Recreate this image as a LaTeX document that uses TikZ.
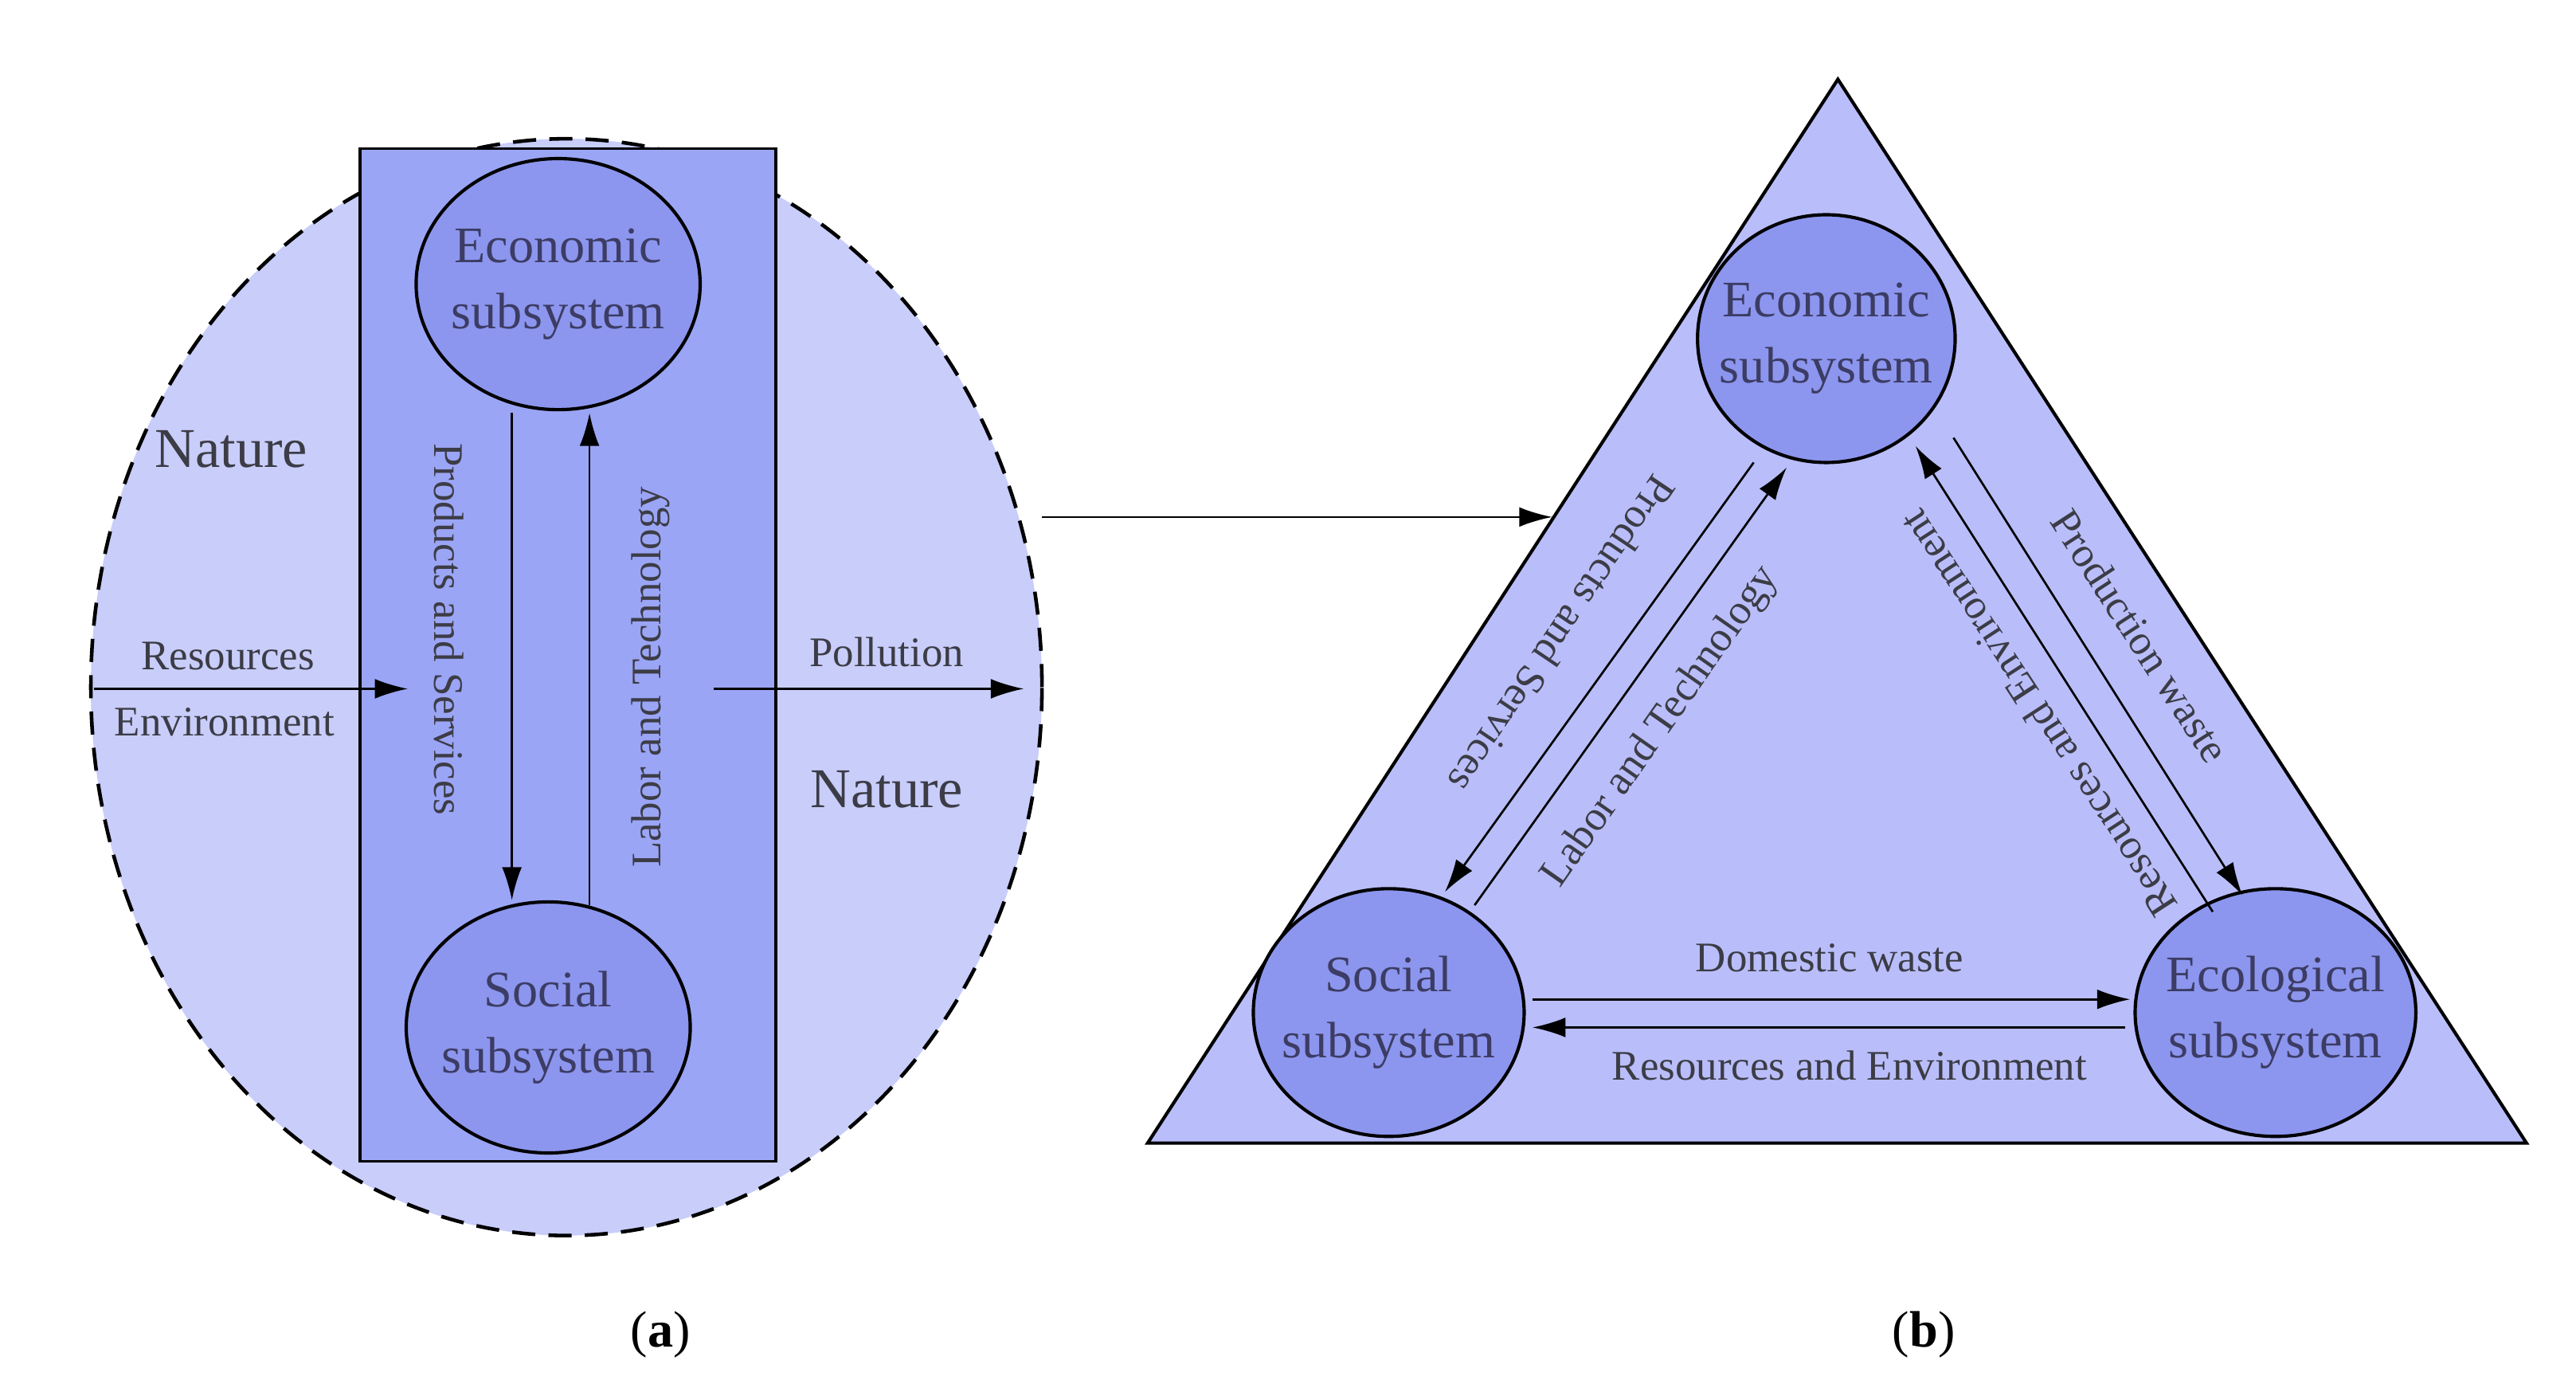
\documentclass[tikz,border=0pt]{standalone}
\usepackage{fontspec}
\setmainfont{Liberation Serif}
\usetikzlibrary{shapes.geometric,arrows.meta}
\definecolor{bgA}{RGB}{200,205,250}
\definecolor{rectA}{RGB}{155,165,245}
\definecolor{circ}{RGB}{140,150,238}
\definecolor{triB}{RGB}{185,190,250}
\definecolor{txt}{RGB}{60,60,70}
\definecolor{ctxt}{RGB}{60,60,100}
\tikzset{
  sub/.style={ellipse,draw,line width=2pt,fill=circ,text=ctxt,align=center,font=\fontsize{31}{40}\selectfont,inner xsep=-14pt,inner ysep=-10pt},
  lab/.style={text=txt,font=\fontsize{25.5}{28}\selectfont,inner sep=0pt},
  arr/.style={line width=1.3pt,-{Latex[length=20pt,width=12pt]}},
}
\begin{document}
\begin{tikzpicture}[x=1pt,y=-1pt]
\useasboundingbox (0,0) rectangle (1560,840);
% (a)
\node[ellipse,draw,dashed,dash pattern=on 14pt off 8pt,line width=2.2pt,fill=bgA,minimum width=576pt,minimum height=664pt] (nat) at (343,416) {};
\node[draw,line width=1.8pt,fill=rectA,minimum width=252pt,minimum height=613pt] (box) at (344,396.5) {};
\node[sub,minimum width=172pt,minimum height=152pt] (ea) at (338,172) {Economic\\subsystem};
\node[sub,minimum width=172pt,minimum height=152pt] (sa) at (332,622) {Social\\subsystem};
\coordinate (a1) at (310,250); \coordinate (a2) at (310,545);
\coordinate (a3) at (357,548); \coordinate (a4) at (357,250);
\draw[arr] (a1) -- (a2);
\draw[arr] (a3) -- (a4);
\node[lab,rotate=-90] (pa) at (272,381) {Products and Services};
\node[lab,rotate=90] (la) at (394,410) {Labor and Technology};
\node[text=txt,font=\fontsize{34}{36}\selectfont] (n1) at (140,272) {Nature};
\node[text=txt,font=\fontsize{34}{36}\selectfont] (n2) at (537,478) {Nature};
\node[lab] (r1) at (138,397) {Resources};
\node[lab] (r2) at (136,437) {Environment};
\coordinate (in0) at (57,417); \coordinate (in1) at (247,417);
\draw[arr] (in0) -- (in1);
\node[lab] (po) at (537,395) {Pollution};
\coordinate (p0) at (432,417); \coordinate (p1) at (620,417);
\draw[arr] (p0) -- (p1);
\coordinate (m0) at (631,313); \coordinate (m1) at (940,313);
\draw[arr] (m0) -- (m1);
% (b)
\coordinate (t1) at (1113,48); \coordinate (t2) at (695,692); \coordinate (t3) at (1530,692);
\draw[line width=2pt,fill=triB,line join=miter] (t1) -- (t2) -- (t3) -- cycle;
\node[sub,minimum width=156pt,minimum height=150pt] (eb) at (1106,205) {Economic\\subsystem};
\node[sub,minimum width=164pt,minimum height=150pt] (sb) at (841,613) {Social\\subsystem};
\node[sub,minimum width=170pt,minimum height=150pt] (gb) at (1378,613) {Ecological\\subsystem};
\coordinate (b1) at (1062,280); \coordinate (b2) at (875,540);
\coordinate (b3) at (893,548); \coordinate (b4) at (1082,283);
\coordinate (b5) at (1183,265); \coordinate (b6) at (1358,542);
\coordinate (b7) at (1340,552); \coordinate (b8) at (1160,270);
\draw[arr] (b1) -- (b2);
\draw[arr] (b3) -- (b4);
\draw[arr] (b5) -- (b6);
\draw[arr] (b7) -- (b8);
\coordinate (d1) at (928,605); \coordinate (d2) at (1290,605);
\coordinate (d3) at (1287,622); \coordinate (d4) at (928,622);
\draw[arr] (d1) -- (d2);
\draw[arr] (d3) -- (d4);
\node[lab] (dw) at (1108,580) {Domestic waste};
\node[lab] (re) at (1120,645) {Resources and Environment};
\node[lab,rotate=-124] (ps) at (946,384) {Products and Services};
\node[lab,rotate=55] (lt) at (1006,440) {Labor and Technology};
\node[lab,rotate=-57] (pw) at (1296,385) {Production waste};
\node[lab,rotate=123] (rb) at (1234,432) {Resources and Environment};
% captions
\node[font=\fontsize{31}{34}\selectfont] (ca) at (400,808) {(\textbf{a})};
\node[font=\fontsize{31}{34}\selectfont] (cb) at (1165,808) {(\textbf{b})};
\end{tikzpicture}
\end{document}
